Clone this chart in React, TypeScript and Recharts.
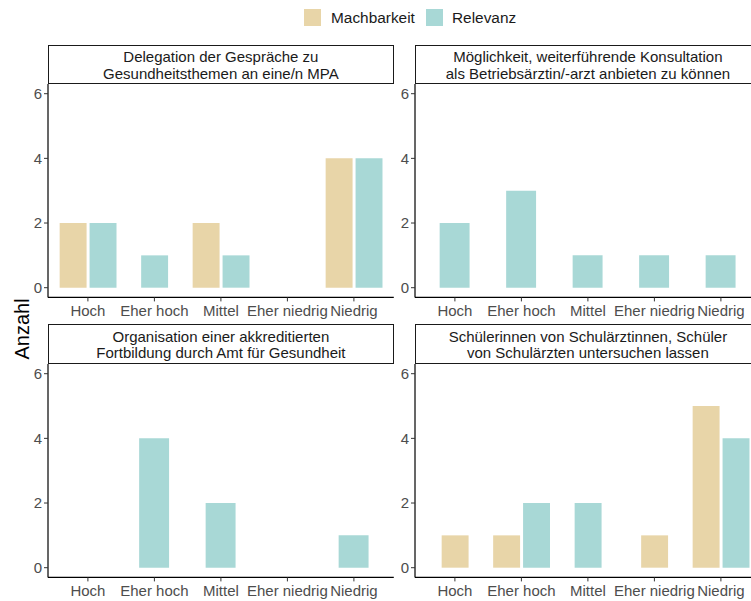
import { BarChart, Bar, XAxis, YAxis } from 'recharts'

const categories = ['Hoch', 'Eher hoch', 'Mittel', 'Eher niedrig', 'Niedrig']
const yTicks = [0, 2, 4, 6]

const titles = [
  ['Delegation der Gespräche zu', 'Gesundheitsthemen an eine/n MPA'],
  ['Möglichkeit, weiterführende Konsultation', 'als Betriebsärztin/-arzt anbieten zu können'],
  ['Organisation einer akkreditierten', 'Fortbildung durch Amt für Gesundheit'],
  ['Schülerinnen von Schulärztinnen, Schüler', 'von Schulärzten untersuchen lassen'],
]

const machbarkeit1 = [2, 0, 2, 0, 4]
const relevanz1 = [2, 1, 1, 0, 4]
const machbarkeit2 = [0, 0, 0, 0, 0]
const relevanz2 = [2, 3, 1, 1, 1]
const machbarkeit3 = [0, 0, 0, 0, 0]
const relevanz3 = [0, 4, 2, 0, 1]
const machbarkeit4 = [1, 1, 0, 1, 5]
const relevanz4 = [0, 2, 2, 0, 4]

const MACH = '#E8D5A8'
const REL = '#A8D8D6'
const FONT = '"Liberation Sans", Arial, sans-serif'

// ggplot geometry: 5 categories with 0.6 expansion on each side
const PLOT_W = 345.8
const PLOT_H = 213.4
const Y_AXIS_W = 48
const X_AXIS_H = 30
const unit = PLOT_W / 5.2
const pad = unit * 0.1

// pairs are dodged, single bars sit centred on the tick
const buildRows = (mach: number[], rel: number[]) =>
  categories.map((cat, i) => {
    const m = mach[i]
    const r = rel[i]
    const both = m > 0 && r > 0
    return {
      cat,
      pairM: both ? m : null,
      pairR: both ? r : null,
      singleM: !both && m > 0 ? m : null,
      singleR: !both && r > 0 ? r : null,
    }
  })

interface PanelProps {
  title: string[]
  mach: number[]
  rel: number[]
  left: number
  top: number
}

const Panel = ({ title, mach, rel, left, top }: PanelProps) => {
  const data = buildRows(mach, rel)
  const twoSeries = mach.some((v) => v > 0) && rel.some((v) => v > 0)
  const pairSize = unit * 0.405
  const singleSize = twoSeries ? pairSize : unit * 0.45

  return (
    <>
      <div
        style={{
          position: 'absolute',
          left: left + Y_AXIS_W,
          top: top - 39.5,
          width: PLOT_W,
          height: 39.5,
          boxSizing: 'border-box',
          border: '1.6px solid #1a1a1a',
          background: '#fff',
          textAlign: 'center',
          fontSize: 15,
          lineHeight: '16.6px',
          paddingTop: 3.5,
          color: '#1a1a1a',
        }}
      >
        {title[0]}
        <br />
        {title[1]}
      </div>
      <div style={{ position: 'absolute', left, top }}>
        <BarChart
          width={Y_AXIS_W + PLOT_W}
          height={PLOT_H + X_AXIS_H}
          data={data}
          margin={{ top: 0, right: 0, bottom: 0, left: 0 }}
          barGap={unit * 0.045}
        >
          <XAxis
            xAxisId="pair"
            dataKey="cat"
            interval={0}
            height={X_AXIS_H}
            padding={{ left: pad, right: pad }}
            axisLine={{ stroke: '#000', strokeWidth: 1.2 }}
            tickLine={{ stroke: '#333' }}
            tickSize={4}
            tickMargin={4}
            tick={{ fill: '#4D4D4D', fontSize: 15 }}
          />
          <XAxis xAxisId="single" dataKey="cat" hide padding={{ left: pad, right: pad }} />
          <YAxis
            width={Y_AXIS_W}
            type="number"
            domain={[-0.3, 6.3]}
            ticks={yTicks}
            axisLine={{ stroke: '#000', strokeWidth: 1.2 }}
            tickLine={{ stroke: '#333' }}
            tickSize={4}
            tickMargin={2}
            tick={{ fill: '#4D4D4D', fontSize: 15 }}
          />
          <Bar xAxisId="pair" dataKey="pairM" fill={MACH} barSize={pairSize} isAnimationActive={false} />
          <Bar xAxisId="pair" dataKey="pairR" fill={REL} barSize={pairSize} isAnimationActive={false} />
          <Bar xAxisId="single" dataKey="singleM" stackId="s" fill={MACH} barSize={singleSize} isAnimationActive={false} />
          <Bar xAxisId="single" dataKey="singleR" stackId="s" fill={REL} barSize={singleSize} isAnimationActive={false} />
        </BarChart>
      </div>
    </>
  )
}

export default function App() {
  return (
    <div
      style={{
        position: 'absolute',
        left: 0,
        top: 0,
        width: 751,
        height: 601,
        overflow: 'hidden',
        background: '#fff',
        fontFamily: FONT,
      }}
    >
      {/* legend */}
      <div style={{ position: 'absolute', left: 303.5, top: 9, width: 17, height: 17, background: MACH }} />
      <div style={{ position: 'absolute', left: 331, top: 8, fontSize: 15.4, lineHeight: '19px', color: '#1a1a1a' }}>
        Machbarkeit
      </div>
      <div style={{ position: 'absolute', left: 425.5, top: 9, width: 17, height: 17, background: REL }} />
      <div style={{ position: 'absolute', left: 452, top: 8, fontSize: 15.4, lineHeight: '19px', color: '#1a1a1a' }}>
        Relevanz
      </div>

      <Panel title={titles[0]} mach={machbarkeit1} rel={relevanz1} left={0} top={84} />
      <Panel title={titles[1]} mach={machbarkeit2} rel={relevanz2} left={367} top={84} />
      <Panel title={titles[2]} mach={machbarkeit3} rel={relevanz3} left={0} top={363.5} />
      <Panel title={titles[3]} mach={machbarkeit4} rel={relevanz4} left={367} top={363.5} />

      {/* y axis title */}
      <div
        style={{
          position: 'absolute',
          left: 21.5,
          top: 329,
          transform: 'translate(-50%, -50%) rotate(-90deg)',
          fontSize: 20,
          color: '#000',
          whiteSpace: 'nowrap',
        }}
      >
        Anzahl
      </div>
    </div>
  )
}
